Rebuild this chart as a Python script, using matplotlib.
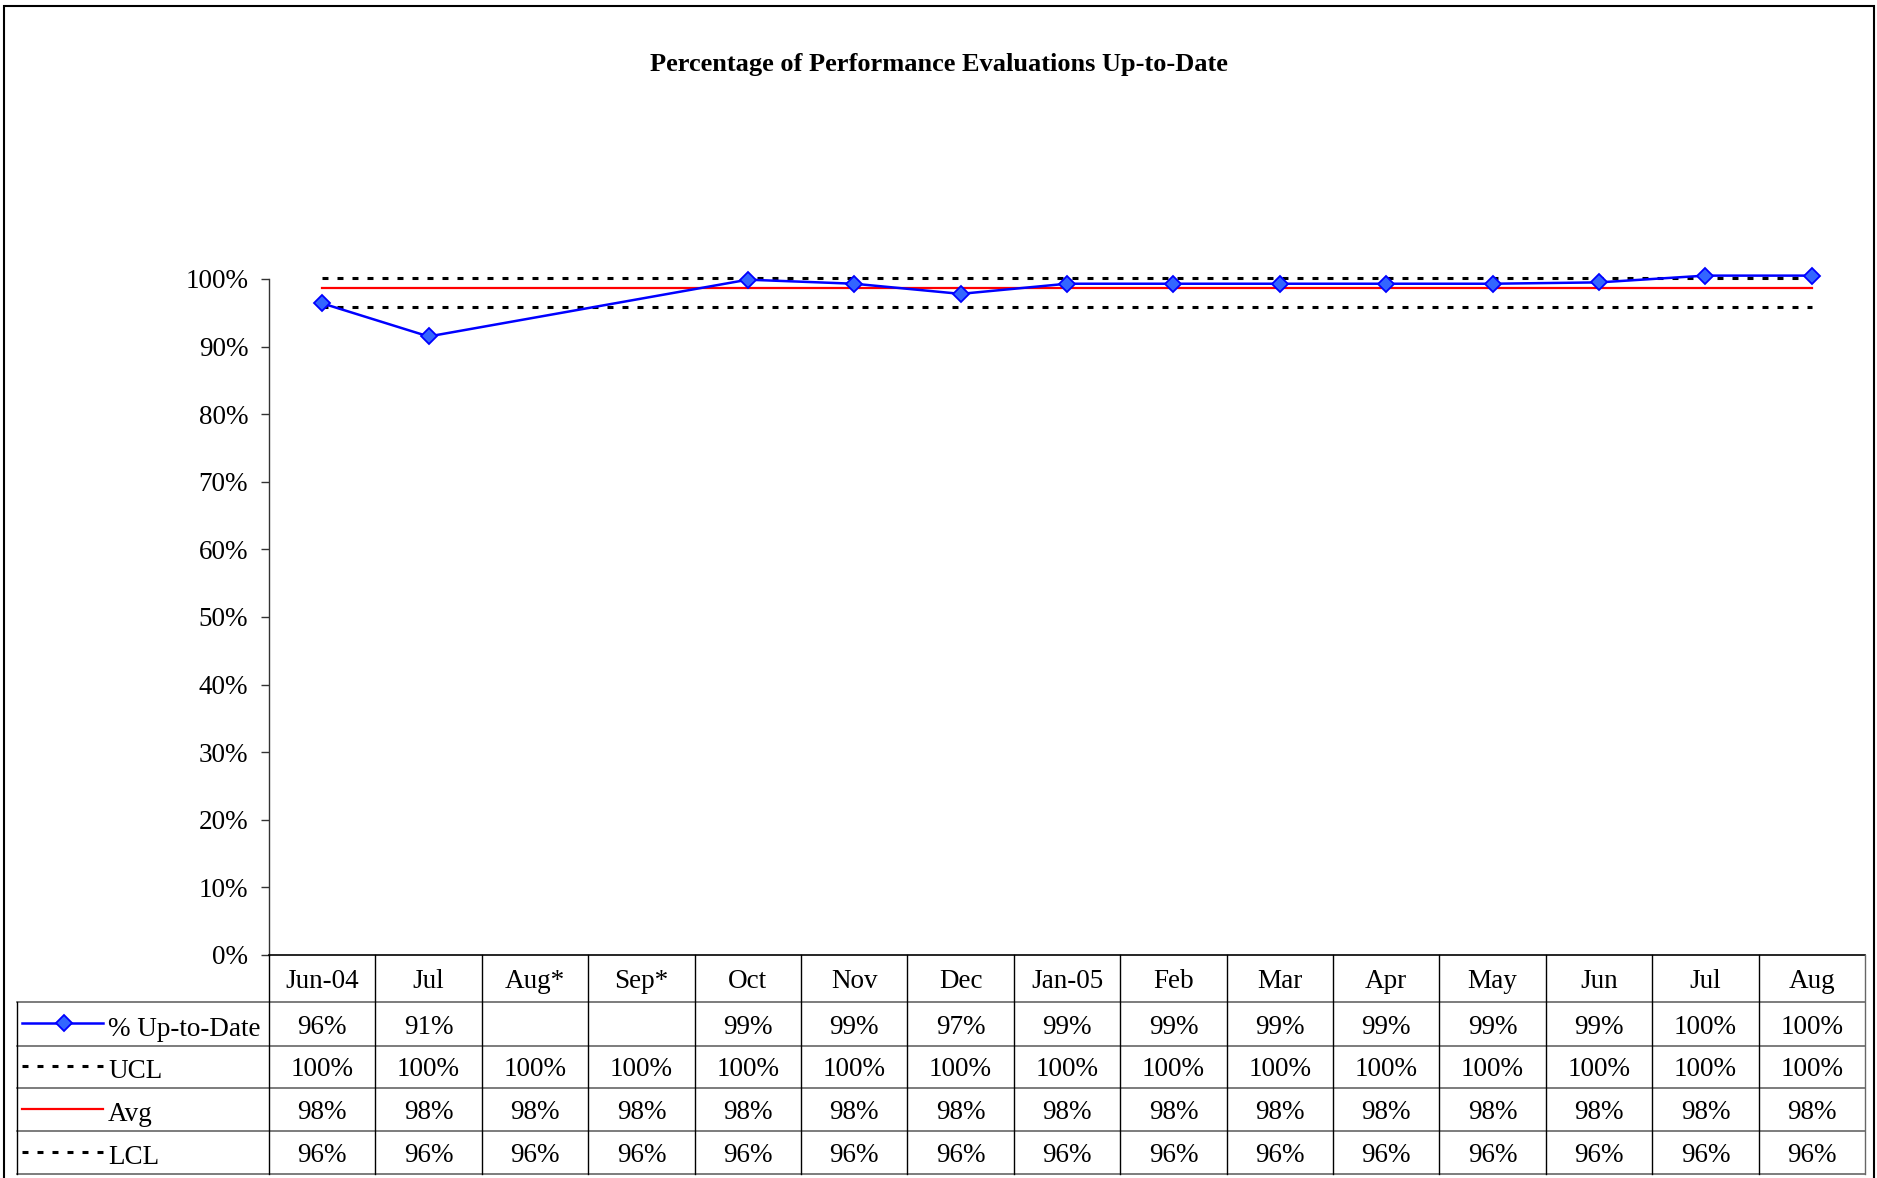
import numpy as np
import matplotlib
matplotlib.use("Agg")
import matplotlib.pyplot as plt
from matplotlib.patches import Rectangle

plt.rcParams['font.family'] = ['Liberation Serif', 'DejaVu Serif']
plt.rcParams['lines.scale_dashes'] = False

# ---------------- data ----------------
categories = ["Jun-04", "Jul", "Aug*", "Sep*", "Oct", "Nov", "Dec", "Jan-05",
              "Feb", "Mar", "Apr", "May", "Jun", "Jul", "Aug"]
pct_up_to_date = [96.4, 91.5, np.nan, np.nan, 99.9, 99.3, 97.8, 99.3,
                  99.3, 99.3, 99.3, 99.3, 99.5, 100.5, 100.5]
ucl = [100.1] * 15
avg = [98.6] * 15
lcl = [95.8] * 15
# values shown in the data table (as printed in the chart)
table_up_to_date = ["96%", "91%", "", "", "99%", "99%", "97%", "99%",
                    "99%", "99%", "99%", "99%", "99%", "100%", "100%"]
table_ucl = ["100%"] * 15
table_avg = ["98%"] * 15
table_lcl = ["96%"] * 15
series_names = ["% Up-to-Date", "UCL", "Avg", "LCL"]
yticks = [0, 10, 20, 30, 40, 50, 60, 70, 80, 90, 100]
title = "Percentage of Performance Evaluations Up-to-Date"

# ---------------- figure ----------------
W, H = 1877, 1178
fig = plt.figure(figsize=(W / 100, H / 100), dpi=100)

def fx(px):
    return px / W

def fy(py):
    return 1 - py / H

FS = 19.5
DASH = (4.3, 6.5)
blue = "#0000FF"
mface = "#3366FF"

ax_l, ax_r, ax_t, ax_b = 269, 1865, 279, 955
ax = fig.add_axes([fx(ax_l), fy(ax_b), fx(ax_r - ax_l), (ax_b - ax_t) / H])

x = np.arange(len(categories)) + 0.5
ax.plot(x, ucl, color="black", lw=2.2, dashes=DASH, clip_on=False, zorder=2)
ax.plot(x, lcl, color="black", lw=2.2, dashes=DASH, clip_on=False, zorder=2)
ax.plot(x, avg, color="#FF0000", lw=1.6, clip_on=False, zorder=3)
v = np.array(pct_up_to_date)
m = ~np.isnan(v)
ax.plot(x[m], v[m], color=blue, lw=1.8, marker="D", markersize=8.5,
        markerfacecolor=mface, markeredgecolor=blue, markeredgewidth=1.3,
        clip_on=False, zorder=4)

ax.set_xlim(0, len(categories))
ax.set_ylim(0, 100)
ax.set_yticks(yticks)
ax.set_yticklabels([f"{t}%" for t in yticks], fontsize=FS)
ax.set_xticks([])
for s in ["top", "right", "bottom"]:
    ax.spines[s].set_visible(False)
ax.spines["left"].set_color("#333333")
ax.spines["left"].set_linewidth(1.0)
ax.tick_params(axis="y", length=6, width=1.0, pad=9, color="#333333")

fig.text(0.5, fy(65), title, ha="center", va="center", fontsize=19,
         fontweight="bold")

# ---------------- data table ----------------
tab_l = 17
unit = (ax_r - ax_l) / len(categories)
leg_w = (ax_l - tab_l) / unit
rows = [955, 1002, 1046, 1088, 1131, 1174]
tax = fig.add_axes([fx(tab_l), fy(rows[-1]), fx(ax_r - tab_l), (rows[-1] - rows[0]) / H])
tax.set_xlim(-leg_w, len(categories))
tax.set_ylim(rows[-1], rows[0])
tax.axis("off")

lc = "#000000"
gc = "#666666"
tax.plot([0, len(categories)], [rows[0], rows[0]], color=lc, lw=1.2, clip_on=False)
for r in rows[1:]:
    tax.plot([-leg_w, len(categories)], [r, r], color=gc, lw=1.2, clip_on=False)
for i in range(len(categories) + 1):
    tax.plot([i, i], [rows[0], rows[-1]], color=lc if i < len(categories) else gc,
             lw=1.0, clip_on=False)
tax.plot([-leg_w, -leg_w], [rows[1], rows[-1]], color=lc, lw=1.0, clip_on=False)

for i, c in enumerate(categories):
    tax.text(i + 0.5, (rows[0] + rows[1]) / 2 + 3, c, ha="center", va="center", fontsize=FS)

table_rows = [table_up_to_date, table_ucl, table_avg, table_lcl]
for r, vals in enumerate(table_rows):
    yc = (rows[r + 1] + rows[r + 2]) / 2
    for i, s in enumerate(vals):
        tax.text(i + 0.5, yc + 3, s, ha="center", va="center", fontsize=FS)

def pxu(px):
    return (px - ax_l) / unit

for r, name in enumerate(series_names):
    yc = (rows[r + 1] + rows[r + 2]) / 2
    ly = yc - 1
    xs = [pxu(22), pxu(103)]
    if r == 0:
        tax.plot(xs, [ly, ly], color=blue, lw=1.8, clip_on=False)
        tax.plot([pxu(64)], [ly], linestyle="none", marker="D", markersize=8.5,
                 markerfacecolor=mface, markeredgecolor=blue, markeredgewidth=1.3,
                 clip_on=False)
    elif r == 2:
        tax.plot(xs, [ly, ly], color="#FF0000", lw=1.6, clip_on=False)
    else:
        tax.plot(xs, [ly, ly], color="black", lw=2.2, dashes=DASH, clip_on=False)
    tax.text(pxu(108), yc + 5, name, ha="left", va="center", fontsize=FS)

# outer border
fig.patches.append(Rectangle((fx(4), fy(1190)), fx(1874 - 4), (1190 - 6) / H,
                             transform=fig.transFigure, fill=False,
                             edgecolor="black", lw=1.5))

fig.savefig("out.png", dpi=100)
